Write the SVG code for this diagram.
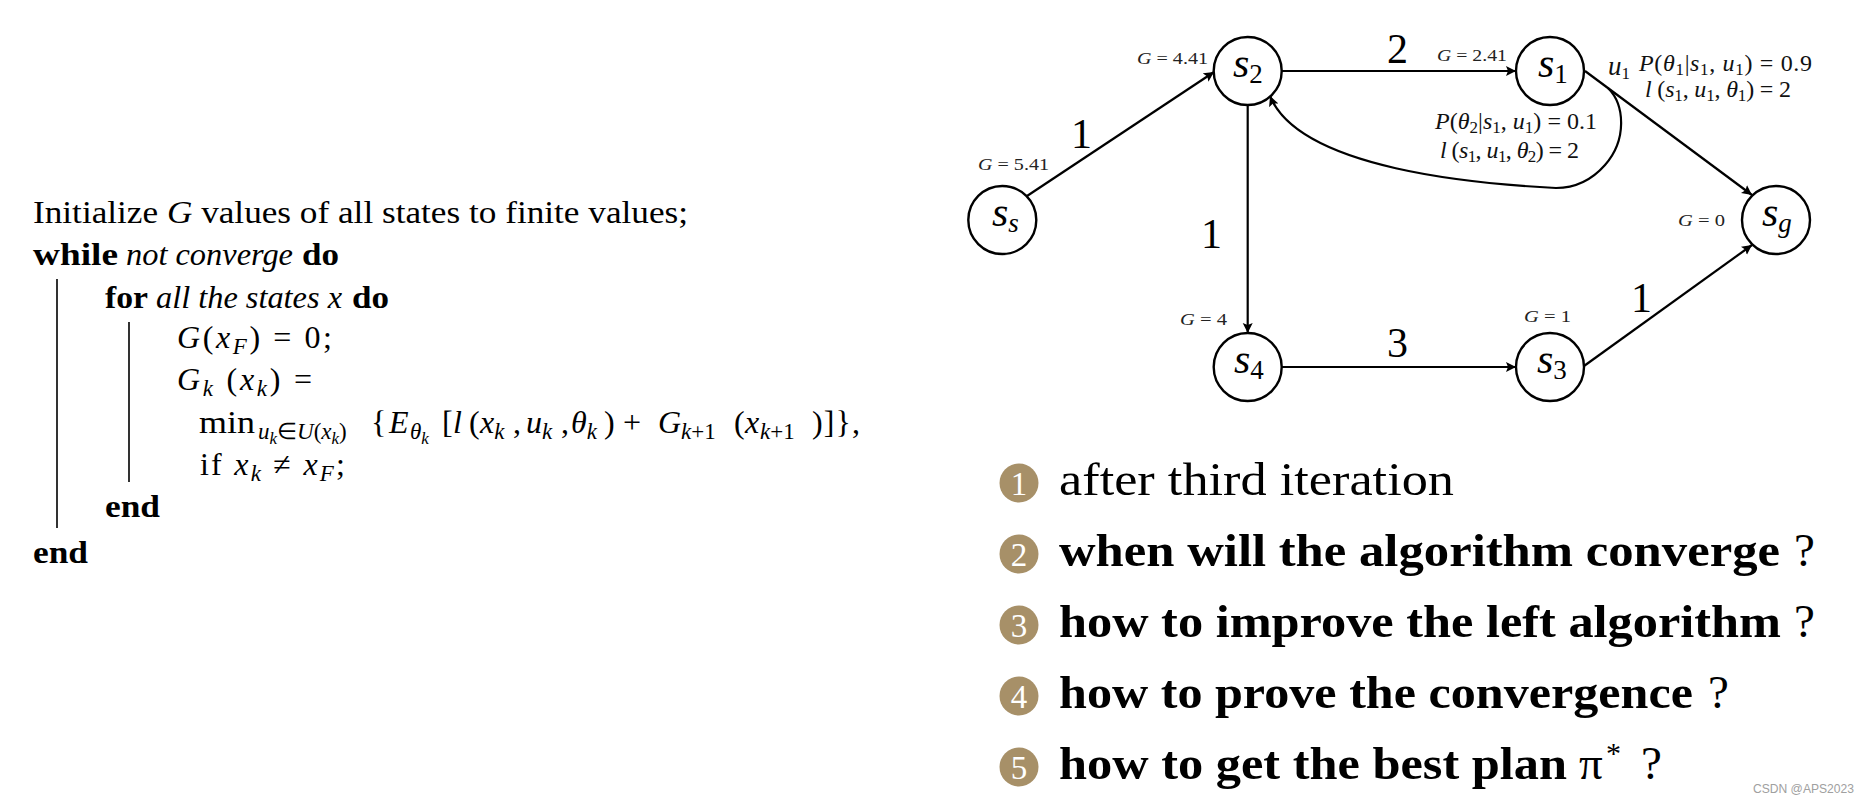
<svg xmlns="http://www.w3.org/2000/svg" width="1870" height="804" viewBox="0 0 1870 804">
<style>
text{font-family:"Liberation Serif","Times New Roman",serif;fill:#000}
.a{font-size:32px}
.b{font-weight:bold}
.i{font-style:italic}
.s{font-size:23px}
.ss{font-size:17px}
.g{font-size:17px;fill:#222}
.p{font-size:24px;fill:#111}
.n{font-size:42px}
.q{font-size:47px}
.d{font-size:33px;fill:#fff}
.st{font-size:42px;font-style:italic}
.sb{font-size:27px}
.w{font-size:12.5px;fill:#a0a0a0;font-family:"Liberation Sans",sans-serif}
.c{fill:#fff;stroke:#000;stroke-width:2.4}
.e{fill:none;stroke:#000;stroke-width:2.2}
.bd{fill:#a79068}
</style>
<defs>
<marker id="h" markerUnits="userSpaceOnUse" markerWidth="12" markerHeight="12" refX="10" refY="5" orient="auto"><path d="M0,0L10,5L0,10L2,5Z" fill="#000"/></marker>
</defs>
<g id="algorithm">
<text class="a" x="33" y="223" textLength="655" lengthAdjust="spacingAndGlyphs">Initialize <tspan class="i">G</tspan> values of all states to finite values;</text>
<text class="a b" x="33" y="265" textLength="85" lengthAdjust="spacingAndGlyphs">while</text>
<text class="a i" x="126" y="265" textLength="167" lengthAdjust="spacingAndGlyphs">not converge</text>
<text class="a b" x="302" y="265" textLength="37" lengthAdjust="spacingAndGlyphs">do</text>
<text class="a b" x="105" y="308" textLength="43" lengthAdjust="spacingAndGlyphs">for</text>
<text class="a i" x="156" y="308" textLength="186" lengthAdjust="spacingAndGlyphs">all the states x</text>
<text class="a b" x="352" y="308" textLength="37" lengthAdjust="spacingAndGlyphs">do</text>
<text class="a" x="177" y="348" textLength="155" lengthAdjust="spacing"><tspan class="i">G</tspan>(<tspan class="i">x</tspan><tspan class="s i" dy="6">F</tspan><tspan dy="-6">) = 0;</tspan></text>
<text class="a" x="177" y="390" textLength="135" lengthAdjust="spacing"><tspan class="i">G</tspan><tspan class="s i" dy="6">k</tspan><tspan dy="-6"> (</tspan><tspan class="i">x</tspan><tspan class="s i" dy="6">k</tspan><tspan dy="-6">) =</tspan></text>
<text class="a" x="199" y="433" textLength="56" lengthAdjust="spacingAndGlyphs">min</text>
<text class="s i" x="258" y="439">u<tspan class="ss" dy="5">k</tspan><tspan font-style="normal" dy="-5">∈</tspan>U<tspan font-style="normal">(</tspan>x<tspan class="ss" dy="5">k</tspan><tspan font-style="normal" dy="-5">)</tspan></text>
<text class="a" x="371" y="433">{</text>
<text class="a i" x="389" y="433">E</text>
<text class="s i" x="410" y="439">θ<tspan class="ss" dy="5">k</tspan></text>
<text class="a" x="442" y="433">[</text>
<text class="a i" x="453" y="433">l</text>
<text class="a" x="469" y="433">(</text>
<text class="a i" x="480" y="433">x<tspan class="s" dy="6">k</tspan></text>
<text class="a" x="513" y="433">,</text>
<text class="a i" x="526" y="433">u<tspan class="s" dy="6">k</tspan></text>
<text class="a" x="561" y="433">,</text>
<text class="a i" x="571" y="433">θ<tspan class="s" dy="6">k</tspan></text>
<text class="a" x="604" y="433">)</text>
<text class="a" x="623" y="433">+</text>
<text class="a i" x="658" y="433">G</text>
<text class="s i" x="681" y="439">k<tspan font-style="normal">+1</tspan></text>
<text class="a" x="734" y="433">(</text>
<text class="a i" x="745" y="433">x</text>
<text class="s i" x="760" y="439">k<tspan font-style="normal">+1</tspan></text>
<text class="a" x="812" y="433" textLength="48" lengthAdjust="spacing">)]},</text>
<text class="a" x="200" y="475" textLength="145" lengthAdjust="spacing">if <tspan class="i">x</tspan><tspan class="s i" dy="6">k</tspan><tspan dy="-6"> ≠ </tspan><tspan class="i">x</tspan><tspan class="s i" dy="6">F</tspan><tspan dy="-6">;</tspan></text>
<text class="a b" x="105" y="517" textLength="55" lengthAdjust="spacingAndGlyphs">end</text>
<text class="a b" x="33" y="563" textLength="55" lengthAdjust="spacingAndGlyphs">end</text>
<path d="M57,279V528M129,322V482" fill="none" stroke="#000" stroke-width="1.6"/>
</g>
<g id="connectors">
<path class="e" marker-end="url(#h)" d="M1027,196L1214,72"/>
<path class="e" marker-end="url(#h)" d="M1282,71H1516"/>
<path class="e" marker-end="url(#h)" d="M1247.7,105V333"/>
<path class="e" marker-end="url(#h)" d="M1282,367H1516"/>
<path class="e" marker-end="url(#h)" d="M1584,366L1752,245"/>
<path class="e" marker-end="url(#h)" d="M1585,71L1752,195"/>
<path class="e" marker-end="url(#h)" d="M1608,88C1625,105 1627,140 1605,165C1590,182 1572,188 1556,188C1480,184 1300,170 1270,96"/>
</g>
<g id="node-ss"><circle class="c" cx="1002.3" cy="220" r="34"/><text class="st" x="992" y="226">s<tspan class="sb" dy="6">s</tspan></text></g>
<g id="node-s2"><circle class="c" cx="1247.7" cy="71" r="34"/><text class="st" x="1233" y="77">s<tspan class="sb" font-style="normal" dy="6">2</tspan></text></g>
<g id="node-s1"><circle class="c" cx="1550" cy="71" r="34"/><text class="st" x="1538" y="77">s<tspan class="sb" font-style="normal" dy="6">1</tspan></text></g>
<g id="node-sg"><circle class="c" cx="1776" cy="220" r="34"/><text class="st" x="1762" y="226">s<tspan class="sb" dy="6">g</tspan></text></g>
<g id="node-s4"><circle class="c" cx="1247.7" cy="367" r="34"/><text class="st" x="1234" y="373">s<tspan class="sb" font-style="normal" dy="6">4</tspan></text></g>
<g id="node-s3"><circle class="c" cx="1550" cy="367" r="34"/><text class="st" x="1537" y="373">s<tspan class="sb" font-style="normal" dy="6">3</tspan></text></g>
<g id="edge-labels">
<text class="n" x="1071" y="148">1</text>
<text class="n" x="1387" y="63">2</text>
<text class="n" x="1201" y="248">1</text>
<text class="n" x="1387" y="357">3</text>
<text class="n" x="1631" y="312">1</text>
<text class="g" x="978" y="170" textLength="71" lengthAdjust="spacingAndGlyphs"><tspan class="i">G</tspan> = 5.41</text>
<text class="g" x="1137" y="64" textLength="71" lengthAdjust="spacingAndGlyphs"><tspan class="i">G</tspan> = 4.41</text>
<text class="g" x="1437" y="61" textLength="70" lengthAdjust="spacingAndGlyphs"><tspan class="i">G</tspan> = 2.41</text>
<text class="g" x="1678" y="226" textLength="47" lengthAdjust="spacingAndGlyphs"><tspan class="i">G</tspan> = 0</text>
<text class="g" x="1180" y="325" textLength="47" lengthAdjust="spacingAndGlyphs"><tspan class="i">G</tspan> = 4</text>
<text class="g" x="1524" y="322" textLength="47" lengthAdjust="spacingAndGlyphs"><tspan class="i">G</tspan> = 1</text>
<text class="p" x="1608" y="75" font-size="26" style="font-size:27px"><tspan class="i">u</tspan><tspan class="ss" dy="4">1</tspan></text>
<text class="p" x="1639" y="71" textLength="173" lengthAdjust="spacing"><tspan class="i">P</tspan>(<tspan class="i">θ</tspan><tspan class="ss" dy="4">1</tspan><tspan dy="-4">|</tspan><tspan class="i">s</tspan><tspan class="ss" dy="4">1</tspan><tspan dy="-4">, </tspan><tspan class="i">u</tspan><tspan class="ss" dy="4">1</tspan><tspan dy="-4">) = 0.9</tspan></text>
<text class="p" x="1645" y="97" textLength="146" lengthAdjust="spacing"><tspan class="i">l</tspan> (<tspan class="i">s</tspan><tspan class="ss" dy="4">1</tspan><tspan dy="-4">, </tspan><tspan class="i">u</tspan><tspan class="ss" dy="4">1</tspan><tspan dy="-4">, </tspan><tspan class="i">θ</tspan><tspan class="ss" dy="4">1</tspan><tspan dy="-4">) = 2</tspan></text>
<text class="p" x="1435" y="129" textLength="162" lengthAdjust="spacing"><tspan class="i">P</tspan>(<tspan class="i">θ</tspan><tspan class="ss" dy="4">2</tspan><tspan dy="-4">|</tspan><tspan class="i">s</tspan><tspan class="ss" dy="4">1</tspan><tspan dy="-4">, </tspan><tspan class="i">u</tspan><tspan class="ss" dy="4">1</tspan><tspan dy="-4">) = 0.1</tspan></text>
<text class="p" x="1440" y="158" textLength="139" lengthAdjust="spacing"><tspan class="i">l</tspan> (<tspan class="i">s</tspan><tspan class="ss" dy="4">1</tspan><tspan dy="-4">, </tspan><tspan class="i">u</tspan><tspan class="ss" dy="4">1</tspan><tspan dy="-4">, </tspan><tspan class="i">θ</tspan><tspan class="ss" dy="4">2</tspan><tspan dy="-4">) = 2</tspan></text>
</g>
<g id="list">
<circle class="bd" cx="1019" cy="483" r="19.5"/><text class="d" x="1019" y="495" text-anchor="middle">1</text>
<circle class="bd" cx="1019" cy="554" r="19.5"/><text class="d" x="1019" y="566" text-anchor="middle">2</text>
<circle class="bd" cx="1019" cy="625" r="19.5"/><text class="d" x="1019" y="637" text-anchor="middle">3</text>
<circle class="bd" cx="1019" cy="696" r="19.5"/><text class="d" x="1019" y="708" text-anchor="middle">4</text>
<circle class="bd" cx="1019" cy="767" r="19.5"/><text class="d" x="1019" y="779" text-anchor="middle">5</text>
<text class="q" x="1059" y="495" textLength="395" lengthAdjust="spacingAndGlyphs">after third iteration</text>
<text class="q b" x="1059" y="566" textLength="721" lengthAdjust="spacingAndGlyphs">when will the algorithm converge</text>
<text class="q" x="1794" y="566">?</text>
<text class="q b" x="1059" y="637" textLength="722" lengthAdjust="spacingAndGlyphs">how to improve the left algorithm</text>
<text class="q" x="1794" y="637">?</text>
<text class="q b" x="1059" y="708" textLength="634" lengthAdjust="spacingAndGlyphs">how to prove the convergence</text>
<text class="q" x="1708" y="708">?</text>
<text class="q b" x="1059" y="779" textLength="508" lengthAdjust="spacingAndGlyphs">how to get the best plan</text>
<text class="q" x="1579" y="779">π</text>
<text x="1606" y="763" font-size="30">*</text>
<text class="q" x="1641" y="779">?</text>
</g>
<text class="w" x="1753" y="793" textLength="101" lengthAdjust="spacingAndGlyphs">CSDN @APS2023</text>
</svg>
